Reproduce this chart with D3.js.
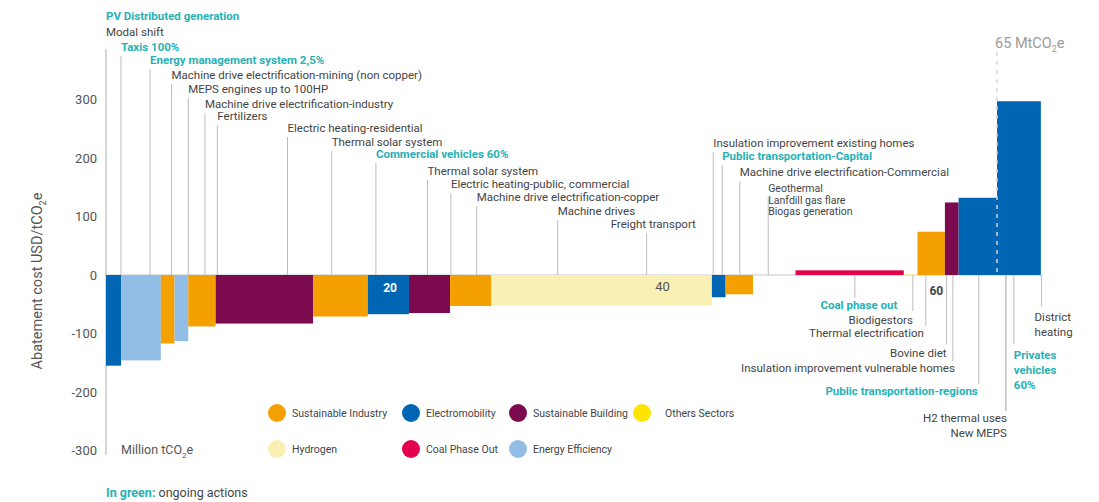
<!DOCTYPE html>
<html>
<head>
<meta charset="utf-8">
<script src="https://cdn.jsdelivr.net/npm/d3@7"></script>
<style>
  body { margin: 0; background: #fff; }
  svg { font-family: Roboto, "Noto Sans", sans-serif; }
</style>
</head>
<body>
<div id="container"></div>
<script>
// sectors and their colours
const sectors = ["Sustainable Industry", "Electromobility", "Sustainable Building", "Others Sectors",
                 "Hydrogen", "Coal Phase Out", "Energy Efficiency"]
const sectorColors = ["#f4a000", "#0066b3", "#7b0b4e", "#ffe400", "#fbf0b3", "#e3004c", "#92bde6"]

// bars of the curve, left to right (volume MtCO2e, cost USD/tCO2e)
const barSector = ["Electromobility", "Energy Efficiency", "Sustainable Industry", "Energy Efficiency",
                   "Sustainable Industry", "Sustainable Building", "Sustainable Industry", "Electromobility",
                   "Sustainable Building", "Sustainable Industry", "Hydrogen", "Electromobility",
                   "Sustainable Industry", "Others Sectors", "Coal Phase Out", "Hydrogen",
                   "Sustainable Industry", "Sustainable Building", "Electromobility", "Electromobility"]
const barVolume = [1.1, 2.9, 1.0, 1.0, 2.0, 7.1, 4.0, 3.0, 3.0, 3.0, 16.1, 1.0, 2.0, 3.1, 7.9, 1.0, 2.0, 1.0, 2.8, 3.2]
const barCost   = [-155, -146, -117, -113, -88, -83, -71, -67, -65, -53, -52, -38, -33, 0, 8, 2, 74, 124, 132, 297]

// measures labelled above the curve (leader position in MtCO2e)
const topNames = ["PV Distributed generation", "Modal shift", "Taxis 100%", "Energy management system 2,5%",
  "Machine drive electrification-mining (non copper)", "MEPS engines up to 100HP",
  "Machine drive electrification-industry", "Fertilizers", "Electric heating-residential",
  "Thermal solar system", "Commercial vehicles 60%", "Thermal solar system",
  "Electric heating-public, commercial", "Machine drive electrification-copper", "Machine drives",
  "Freight transport", "Insulation improvement existing homes", "Public transportation-Capital",
  "Machine drive electrification-Commercial", "Geothermal", "Lanfdill gas flare", "Biogas generation"]
const topAt = [0, 0, 1.09, 3.21, 4.78, 6.0, 7.22, 8.12, 13.24, 16.46, 19.69, 23.45, 25.16, 27.04,
  32.95, 39.44, 44.3, 44.95, 46.24, 48.31, 48.31, 48.31]
const topOngoing = [1, 0, 1, 1, 0, 0, 0, 0, 0, 0, 1, 0, 0, 0, 0, 0, 0, 1, 0, 0, 0, 0]

// measures labelled below the curve
const bottomNames = ["Coal phase out", "Biodigestors", "Thermal electrification", "Bovine diet",
  "Insulation improvement vulnerable homes", "Public transportation-regions", "H2 thermal uses",
  "New MEPS", "Privates|vehicles|60%", "District|heating"]
const bottomAt = [54.63, 58.86, 59.81, 61.32, 61.78, 63.67, 65.65, 65.65, 66.23, 68.25]
const bottomOngoing = [1, 0, 0, 0, 0, 1, 0, 0, 1, 0]

const yTicks = [-300, -200, -100, 0, 100, 200, 300]
const xMarks = [20, 40, 60]
const totalMark = 65

// ---- layout (not data) ----
const width = 1099, height = 502
const teal = "#27b1b5", textGray = "#444"
const topY = [20, 36, 51, 64, 79, 93, 108, 120, 132, 146, 158, 175, 188, 201, 215, 228, 147, 160, 176, 192, 203.5, 215]
const freightShift = -36
const bottomLayout = [
  {anchor: "middle", dx: 4, y: 309, lineEnd: 298},
  {anchor: "end", dx: 0, y: 324, lineEnd: 311},
  {anchor: "end", dx: -2, y: 337, lineEnd: 326},
  {anchor: "end", dx: 0, y: 357, lineEnd: 344},
  {anchor: "end", dx: 2, y: 372, lineEnd: 361},
  {anchor: "end", dx: -1, y: 395, lineEnd: 384},
  {anchor: "end", dx: 1, y: 422, lineEnd: 411},
  {anchor: "end", dx: 1, y: 437, lineEnd: 411},
  {anchor: "start", dx: 0, y: 359, lineEnd: 344},
  {anchor: "start", dx: -7, y: 321, lineEnd: 306}
]

let svg = d3.select("#container").append("svg")
  .attr("width", width).attr("height", height)

let x = d3.scaleLinear().domain([0, totalMark]).range([106, 997])
let y = d3.scaleLinear().domain([-300, 300]).range([450.5, 99.5])

let color = d3.scaleOrdinal().domain(sectors).range(sectorColors)

let starts = d3.cumsum([0].concat(barVolume)).slice(0, barVolume.length)
let bars = barVolume.map((v, i) => ({start: starts[i], vol: v, cost: barCost[i], sector: barSector[i]}))

// axis line and zero line
svg.append("line")
  .attr("x1", x(0)).attr("x2", x(0)).attr("y1", 49).attr("y2", 455)
  .attr("stroke", "#c8c8c8").attr("stroke-width", 1.5)

svg.append("line")
  .attr("x1", x(0)).attr("x2", x(d3.sum(barVolume))).attr("y1", y(0)).attr("y2", y(0))
  .attr("stroke", "#c8c8c8")

// leaders
svg.append("g").attr("stroke", "#bdbdbd")
  .selectAll("line")
  .data(topAt.map((v, i) => ({v, i})).filter(d => d.v > 0 && !(d.i > 19)))
  .join("line")
    .attr("x1", d => x(d.v)).attr("x2", d => x(d.v))
    .attr("y1", d => topY[d.i] + 5).attr("y2", y(0))

svg.append("g").attr("stroke", "#bdbdbd")
  .selectAll("line")
  .data(bottomAt.map((v, i) => ({v, i})))
  .join("line")
    .attr("x1", d => x(d.v)).attr("x2", d => x(d.v))
    .attr("y1", y(0)).attr("y2", d => bottomLayout[d.i].lineEnd)

// bars
svg.append("g")
  .selectAll("rect")
  .data(bars)
  .join("rect")
    .attr("x", d => x(d.start))
    .attr("width", d => x(d.start + d.vol) - x(d.start))
    .attr("y", d => y(Math.max(0, d.cost)))
    .attr("height", d => Math.abs(y(d.cost) - y(0)))
    .attr("fill", d => color(d.sector))

// total marker
svg.append("line")
  .attr("x1", x(totalMark)).attr("x2", x(totalMark)).attr("y1", 52).attr("y2", y(0))
  .attr("stroke", "#cfd6df").attr("stroke-width", 1.5).attr("stroke-dasharray", "4,5")

let total = svg.append("text")
  .attr("x", x(totalMark) - 2).attr("y", 48)
  .attr("fill", "#9a9a9a").attr("font-size", 14.5)
total.append("tspan").text(totalMark + " MtCO")
total.append("tspan").attr("font-size", 9).attr("dy", 4).text("2")
total.append("tspan").attr("dy", -4).text("e")

// y axis
svg.append("g")
  .attr("transform", `translate(${x(0)},0)`)
  .call(d3.axisLeft(y).tickValues(yTicks).tickSize(0).tickPadding(9).tickFormat(d => String(d)))
  .call(g => g.select(".domain").remove())
  .call(g => g.selectAll("text").attr("fill", "#555").attr("font-size", 13)
    .attr("font-family", "Roboto, sans-serif"))

let ytitle = svg.append("text")
  .attr("transform", "translate(42,281) rotate(-90)")
  .attr("text-anchor", "middle")
  .attr("fill", "#555").attr("font-size", 14.5)
ytitle.append("tspan").text("Abatement cost USD/tCO")
ytitle.append("tspan").attr("font-size", 9).attr("dy", 4).text("2")
ytitle.append("tspan").attr("dy", -4).text("e")

// x volume marks
svg.append("text").attr("x", x(xMarks[0]) + 3).attr("y", 292)
  .attr("fill", "#fff").attr("font-size", 12).attr("font-weight", "bold").text(xMarks[0])
svg.append("text").attr("x", x(xMarks[1]) + 1).attr("y", 291)
  .attr("fill", "#555").attr("font-size", 13).text(xMarks[1])
svg.append("text").attr("x", x(xMarks[2]) + 1).attr("y", 295)
  .attr("fill", "#444").attr("font-size", 12).attr("font-weight", "bold").text(xMarks[2])

let unit = svg.append("text").attr("x", 121).attr("y", 454)
  .attr("fill", "#555").attr("font-size", 12.5)
unit.append("tspan").text("Million tCO")
unit.append("tspan").attr("font-size", 8).attr("dy", 4).text("2")
unit.append("tspan").attr("dy", -4).text("e")

// top labels
svg.append("g")
  .selectAll("text")
  .data(topNames)
  .join("text")
    .attr("x", (d, i) => x(topAt[i]) + (d == "Freight transport" ? freightShift : 0))
    .attr("y", (d, i) => topY[i])
    .attr("font-size", (d, i) => i > 18 ? 10.5 : 11.5)
    .attr("font-weight", (d, i) => topOngoing[i] ? "bold" : null)
    .attr("fill", (d, i) => topOngoing[i] ? teal : textGray)
    .text(d => d)

// bottom labels
svg.append("g")
  .selectAll("text")
  .data(bottomNames)
  .join("text")
    .attr("x", (d, i) => x(bottomAt[i]) + bottomLayout[i].dx)
    .attr("y", (d, i) => bottomLayout[i].y)
    .attr("text-anchor", (d, i) => bottomLayout[i].anchor)
    .attr("font-size", 11.5)
    .attr("font-weight", (d, i) => bottomOngoing[i] ? "bold" : null)
    .attr("fill", (d, i) => bottomOngoing[i] ? teal : textGray)
    .each(function(d, i) {
      let t = d3.select(this)
      d.split("|").forEach((part, k) => {
        t.append("tspan").attr("x", x(bottomAt[i]) + bottomLayout[i].dx)
          .attr("dy", k == 0 ? 0 : 15).text(part)
      })
    })

// legend
const legendOrder = ["Sustainable Industry", "Electromobility", "Sustainable Building", "Others Sectors",
                     "Hydrogen", "Coal Phase Out", "Energy Efficiency"]
const legendColX = [277, 411, 518, 642]
let legend = svg.append("g")
  .selectAll("g")
  .data(legendOrder)
  .join("g")
    .attr("transform", (d, i) => `translate(${legendColX[i % 4]},${i < 4 ? 413 : 449})`)
legend.append("circle").attr("r", 9).attr("fill", d => color(d))
legend.append("text").attr("x", (d, i) => i == 3 ? 23 : 15).attr("y", 4)
  .attr("font-size", 10.5).attr("fill", textGray).text(d => d)

let note = svg.append("text").attr("x", 106).attr("y", 497).attr("font-size", 12.5)
note.append("tspan").attr("fill", teal).attr("font-weight", "bold").text("In green:")
note.append("tspan").attr("fill", textGray).text(" ongoing actions")
</script>
</body>
</html>
